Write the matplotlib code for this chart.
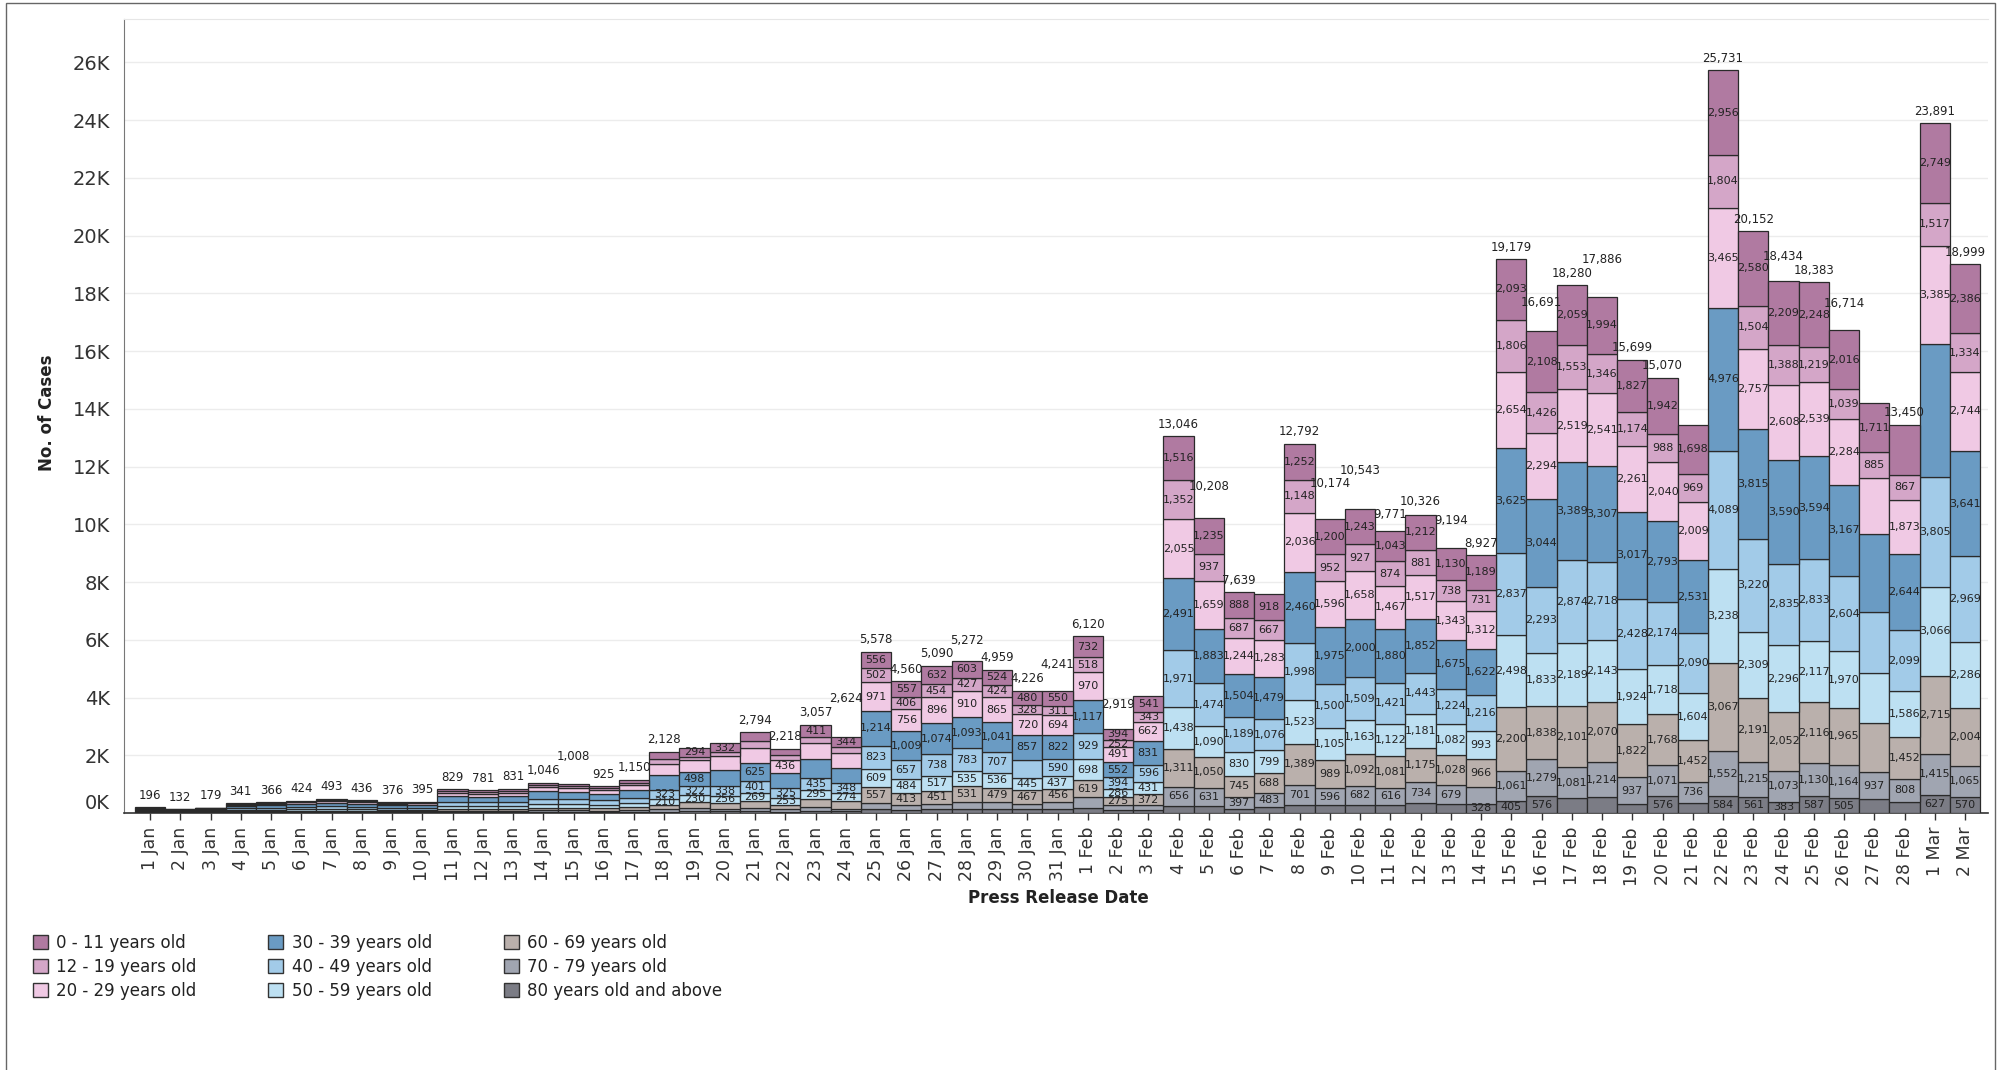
import matplotlib
matplotlib.use("Agg")
import matplotlib.pyplot as plt
from matplotlib.patches import Patch, Rectangle
import numpy as np

# categories
dates = ([f"{d} Jan" for d in range(1, 32)] + [f"{d} Feb" for d in range(1, 29)]
         + ["1 Mar", "2 Mar"])

age_groups = ["0 - 11 years old", "12 - 19 years old", "20 - 29 years old",
              "30 - 39 years old", "40 - 49 years old", "50 - 59 years old",
              "60 - 69 years old", "70 - 79 years old", "80 years old and above"]

# cases per age group, one value per press release date (1 Jan .. 2 Mar)
age_0_11 = [15, 10, 14, 28, 30, 35, 40, 36, 32, 34,
            70, 66, 70, 85, 80, 75, 110, 270, 294, 332,
            300, 210, 411, 344, 556, 557, 632, 603, 524, 480, 550,
            732, 394, 541, 1516, 1235, 888, 918, 1252, 1200, 1243,
            1043, 1212, 1130, 1189, 2093, 2108, 2059, 1994, 1827, 1942,
            1698, 2956, 2580, 2209, 2248, 2016, 1711, 1740,
            2749, 2386]
age_12_19 = [10, 6, 9, 20, 22, 25, 30, 28, 24, 25,
             50, 48, 52, 60, 58, 55, 70, 160, 120, 140,
             250, 175, 235, 210, 502, 406, 454, 427, 424, 328, 311,
             518, 252, 343, 1352, 937, 687, 667, 1148, 952, 927,
             874, 881, 738, 731, 1806, 1426, 1553, 1346, 1174, 988,
             969, 1804, 1504, 1388, 1219, 1039, 885, 867,
             1517, 1334]
age_20_29 = [25, 17, 22, 45, 48, 55, 68, 60, 50, 50,
             120, 112, 118, 150, 145, 130, 170, 395, 400, 470,
             520, 436, 551, 515, 971, 756, 896, 910, 865, 720, 694,
             970, 491, 662, 2055, 1659, 1244, 1283, 2036, 1596, 1658,
             1467, 1517, 1343, 1312, 2654, 2294, 2519, 2541, 2261, 2040,
             2009, 3465, 2757, 2608, 2539, 2284, 1953, 1873,
             3385, 2744]
age_30_39 = [50, 33, 45, 85, 92, 105, 120, 105, 92, 100,
             200, 188, 200, 260, 250, 230, 280, 490, 498, 554,
             625, 539, 635, 508, 1214, 1009, 1074, 1093, 1041, 857, 822,
             1117, 552, 831, 2491, 1883, 1504, 1479, 2460, 1975, 2000,
             1880, 1852, 1675, 1622, 3625, 3044, 3389, 3307, 3017, 2793,
             2531, 4976, 3815, 3590, 3594, 3167, 2690, 2644,
             4612, 3641]
age_40_49 = [35, 24, 32, 60, 65, 75, 85, 75, 65, 68,
             140, 132, 140, 180, 175, 160, 190, 323, 322, 338,
             401, 325, 435, 348, 823, 657, 738, 783, 707, 615, 590,
             929, 394, 596, 1971, 1474, 1189, 1076, 1998, 1500, 1509,
             1421, 1443, 1224, 1216, 2837, 2293, 2874, 2718, 2428, 2174,
             2090, 4089, 3220, 2835, 2833, 2604, 2105, 2099,
             3805, 2969]
age_50_59 = [25, 17, 23, 45, 48, 56, 65, 58, 50, 52,
             105, 100, 106, 130, 125, 115, 135, 210, 230, 256,
             269, 253, 295, 274, 609, 484, 517, 535, 536, 445, 437,
             698, 286, 431, 1438, 1090, 830, 799, 1523, 1105, 1163,
             1122, 1181, 1082, 993, 2498, 1833, 2189, 2143, 1924, 1718,
             1604, 3238, 2309, 2296, 2117, 1970, 1754, 1586,
             3066, 2286]
age_60_69 = [18, 12, 16, 30, 32, 37, 42, 38, 32, 33,
             70, 66, 70, 90, 85, 78, 95, 150, 200, 190,
             250, 150, 295, 270, 557, 413, 451, 531, 479, 467, 456,
             619, 275, 372, 1311, 1050, 745, 688, 1389, 989, 1092,
             1081, 1175, 1028, 966, 2200, 1838, 2101, 2070, 1822, 1768,
             1452, 3067, 2191, 2052, 2116, 1965, 1696, 1452,
             2715, 2004]
age_70_79 = [10, 7, 10, 16, 16, 20, 24, 20, 17, 18,
             40, 37, 40, 50, 48, 45, 55, 80, 110, 95,
             110, 80, 140, 95, 200, 170, 200, 240, 230, 190, 230,
             380, 170, 170, 656, 631, 397, 483, 701, 596, 682,
             616, 734, 679, 570, 1061, 1279, 1081, 1214, 937, 1071,
             736, 1552, 1215, 1073, 1130, 1164, 937, 808,
             1415, 1065]
age_80_up = [8, 6, 8, 12, 13, 16, 19, 16, 14, 15,
             34, 32, 35, 41, 42, 37, 45, 50, 76, 55,
             69, 50, 60, 60, 146, 108, 128, 150, 153, 124, 151,
             157, 105, 104, 256, 249, 155, 200, 285, 261, 269,
             267, 331, 295, 328, 405, 576, 515, 553, 309, 576,
             350, 584, 561, 383, 587, 505, 468, 381,
             627, 570]

series = [age_0_11, age_12_19, age_20_29, age_30_39, age_40_49,
          age_50_59, age_60_69, age_70_79, age_80_up]

# labels the original leaves out (totals, and segments by age-group index)
hidden_totals = ["19 Jan", "20 Jan", "3 Feb", "7 Feb", "21 Feb", "27 Feb"]
hidden_segments = {
    "14 Jan": [3], "15 Jan": [3], "17 Jan": [3],
    "18 Jan": [0, 2, 3], "19 Jan": [2], "20 Jan": [2, 3],
    "21 Jan": [0, 1, 2, 6], "22 Jan": [3], "23 Jan": [2, 3, 6],
    "24 Jan": [2, 3, 6], "30 Jan": [4], "1 Feb": [7], "12 Feb": [8],
    "14 Feb": [7], "17 Feb": [8], "18 Feb": [8], "19 Feb": [8],
    "21 Feb": [8], "27 Feb": [2, 3, 4, 5, 6, 8], "28 Feb": [0, 8],
    "1 Mar": [3],
}

colors = ["#b07aa1", "#d4a6c8", "#f0c9e4", "#6a9bc3", "#a2cbe8",
          "#bde0f2", "#bab0ac", "#a0a5b1", "#7b7c85"]
label_min = [250, 250, 250, 250, 250, 200, 250, 320, 320]

W, H = 2010, 1070
fig = plt.figure(figsize=(W / 100, H / 100), dpi=100)
ax = fig.add_axes([124 / W, 1 - 813 / H, (1988 - 124) / W, (813 - 19) / H])

x = np.arange(len(dates))
bottom = np.zeros(len(dates))
seg_texts = []
for i in reversed(range(len(series))):
    vals = np.array(series[i])
    ax.bar(x, vals, bottom=bottom, width=1.0, color=colors[i],
           edgecolor="#2a2a2a", linewidth=0.9, zorder=3)
    for xi, v, b, d in zip(x, vals, bottom, dates):
        if v >= label_min[i] and i not in hidden_segments.get(d, []):
            seg_texts.append(ax.text(xi, b + v / 2, f"{v:,}", ha="center",
                                     va="center", fontsize=8,
                                     color="#222222", zorder=4))
    bottom += vals

ax.set_xlim(-0.86, 60.76)
ax.set_ylim(0, 27500)
yt = np.arange(0, 26001, 2000)
ax.set_yticks(yt)
ax.set_yticklabels([f"{v // 1000}K" for v in yt])
ax.get_yticklabels()[0].set_va("bottom")
ax.set_xticks(x)
ax.set_xticklabels(dates)
ax.tick_params(axis="x", length=5, width=1, color="#333333", pad=5,
               labelsize=12.5, labelcolor="#333333", rotation=90)
ax.tick_params(axis="y", length=0, pad=10, labelsize=14, labelcolor="#333333")
ax.grid(axis="y", color="#ececec", linewidth=1, zorder=0)
ax.set_axisbelow(True)
ax.spines["right"].set_visible(False)
ax.spines["top"].set_color("#e6e6e6")
ax.spines["left"].set_color("#777777")
ax.spines["bottom"].set_color("#333333")
ax.spines["bottom"].set_linewidth(1.2)

# total labels, pushed up when they would collide with a neighbour
fig.canvas.draw()
rend = fig.canvas.get_renderer()
placed = [t.get_window_extent(rend) for t in seg_texts]
for xi, tot, d in zip(x, bottom, dates):
    if d in hidden_totals:
        continue
    t = ax.annotate(f"{int(tot):,}", (xi, tot), xytext=(0, 4),
                    textcoords="offset points", ha="center", va="bottom",
                    fontsize=8.5, color="#222222", zorder=5)
    dy = 4
    bb = t.get_window_extent(rend)
    while any(bb.overlaps(p) for p in placed) and dy < 80:
        dy += 1
        t.xyann = (0, dy)
        bb = t.get_window_extent(rend)
    placed.append(bb)

fig.text(47 / W, 1 - 413 / H, "No. of Cases", rotation=90, ha="center",
         va="center", fontsize=12, fontweight="bold", color="#222222")
fig.text(1058 / W, 1 - 898 / H, "Press Release Date", ha="center",
         va="center", fontsize=12, fontweight="bold", color="#222222")

handles = [Patch(facecolor=c, edgecolor="#333333", linewidth=1) for c in colors]
fig.legend(handles, age_groups, loc="upper left",
           bbox_to_anchor=(18 / W, 1 - 919 / H), ncol=3, frameon=False,
           fontsize=12, handlelength=0.9, handleheight=0.9, handletextpad=0.5,
           columnspacing=4.3, labelspacing=0.35, labelcolor="#222222")

# outer frame
fig.patches.append(Rectangle((6 / W, -0.01), (1995 - 6) / W, 1.01 - 3 / H,
                             transform=fig.transFigure, fill=False,
                             edgecolor="#666666", linewidth=1))

fig.savefig("out.png", dpi=100)
